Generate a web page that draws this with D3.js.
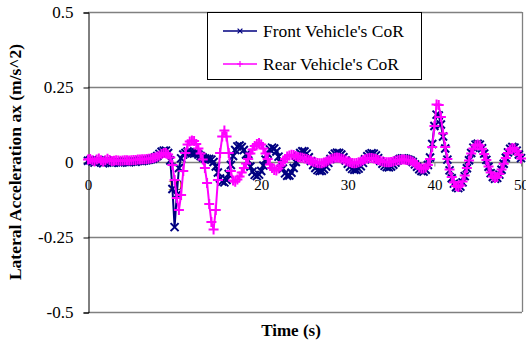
<!DOCTYPE html>
<html><head><meta charset="utf-8">
<script src="https://cdn.jsdelivr.net/npm/d3@7"></script>
<style>body{margin:0;background:#fff} svg text{font-family:"Liberation Serif","Times New Roman",serif;}</style></head>
<body>
<svg id="c" width="526" height="349"></svg>
<script>
const sampleStep = 0.25; // seconds between samples, t = i * sampleStep

const frontCoR = [
0.004,0.006,0.002,-0.002, 0.003,0.006,0.000,-0.004, 0.001,0.005,0.000,-0.003, -0.002,0.000,-0.001,-0.002,
0.000,0.001,0.000,-0.001, 0.001,0.002,0.001,0.003, 0.004,0.003,0.005,0.006, 0.007,0.009,0.011,0.015,
0.020,0.027,0.034,0.038, 0.038,0.030,0.005,-0.090, -0.217,-0.110,-0.020,0.012, 0.025,0.030,0.035,0.033,
0.030,0.028,0.030,0.025, 0.020,0.015,0.012,0.010, 0.010,0.008,0.000,-0.015, -0.035,-0.055,-0.065,-0.068,
-0.060,-0.040,-0.010,0.020, 0.040,0.052,0.055,0.050, 0.040,0.025,0.005,-0.015, -0.032,-0.043,-0.047,-0.042,
-0.030,-0.012,0.008,0.028, 0.042,0.048,0.045,0.035, 0.018,-0.002,-0.022,-0.038, -0.046,-0.045,-0.036,-0.020,
0.000,0.018,0.030,0.036, 0.035,0.028,0.016,0.003, -0.010,-0.020,-0.027,-0.030, -0.029,-0.024,-0.015,-0.003,
0.010,0.021,0.028,0.031, 0.030,0.025,0.016,0.005, -0.006,-0.016,-0.023,-0.026, -0.026,-0.022,-0.014,-0.003,
0.009,0.019,0.026,0.029, 0.028,0.022,0.013,0.003, -0.006,-0.013,-0.017,-0.018, -0.015,-0.009,-0.002,0.005,
0.010,0.012,0.012,0.010, 0.008,0.005,0.000,-0.008, -0.016,-0.024,-0.030,-0.032, -0.026,-0.010,0.015,0.060,
0.120,0.158,0.155,0.125, 0.085,0.045,0.008,-0.028, -0.054,-0.072,-0.084,-0.087, -0.082,-0.068,-0.047,-0.021,
0.006,0.030,0.048,0.058, 0.061,0.058,0.046,0.028, 0.007,-0.016,-0.037,-0.050, -0.056,-0.053,-0.042,-0.026,
-0.006,0.014,0.032,0.044, 0.050,0.048,0.038,0.025, 0.013
];

const rearCoR = [
0.008,0.010,0.006,0.002, 0.008,0.012,0.006,0.001, 0.006,0.011,0.007,0.003, 0.004,0.006,0.005,0.004,
0.005,0.006,0.006,0.005, 0.006,0.007,0.007,0.008, 0.008,0.009,0.009,0.010, 0.011,0.012,0.013,0.015,
0.018,0.022,0.027,0.030, 0.030,0.025,0.015,-0.010, -0.060,-0.120,-0.160,-0.110, -0.030,0.030,0.058,0.068,
0.072,0.070,0.060,0.045, 0.028,0.008,-0.020,-0.070, -0.140,-0.200,-0.225,-0.160, -0.060,0.030,0.085,0.105,
0.085,0.030,-0.030,-0.062, -0.066,-0.058,-0.048,-0.035, -0.020,-0.005,0.010,0.028, 0.042,0.053,0.060,0.063,
0.058,0.045,0.028,0.010, -0.008,-0.020,-0.027,-0.028, -0.022,-0.012,0.000,0.010, 0.018,0.022,0.024,0.023,
0.020,0.017,0.015,0.014, 0.012,0.010,0.007,0.004, 0.001,-0.001,-0.003,-0.004, -0.004,-0.002,0.001,0.005,
0.009,0.012,0.014,0.015, 0.014,0.012,0.009,0.005, 0.002,-0.001,-0.003,-0.004, -0.003,-0.001,0.002,0.006,
0.009,0.012,0.013,0.013, 0.012,0.010,0.007,0.004, 0.002,0.000,-0.001,-0.001, 0.000,0.002,0.004,0.006,
0.007,0.008,0.008,0.007, 0.006,0.004,0.001,-0.004, -0.010,-0.018,-0.022,-0.022, -0.018,-0.010,0.010,0.050,
0.120,0.192,0.190,0.150, 0.095,0.050,0.010,-0.025, -0.050,-0.068,-0.080,-0.083, -0.078,-0.065,-0.045,-0.020,
0.005,0.028,0.045,0.055, 0.058,0.055,0.044,0.027, 0.007,-0.015,-0.035,-0.048, -0.053,-0.050,-0.040,-0.025,
-0.006,0.013,0.030,0.042, 0.047,0.045,0.036,0.024, 0.012
];

const seriesNames = ["Front Vehicle's CoR", "Rear Vehicle's CoR"];
const yTicks = [-0.5, -0.25, 0, 0.25, 0.5];
const yTickLabels = ["-0.5", "-0.25", "0", "0.25", "0.5"];
const xTicks = [0, 10, 20, 30, 40, 50];
const xTickLabels = ["0", "10", "20", "30", "40", "50"];
const xTitle = "Time (s)";
const yTitle = "Lateral Acceleration ax (m/s^2)";

const FRONT = "#000080", REAR = "#FF00FF", GRID = "#808080";
const FONT = "Liberation Serif, Times New Roman, serif";

const svg = d3.select("#c");
const x = d3.scaleLinear().domain([0, 50]).range([88, 521]);
const y = d3.scaleLinear().domain([-0.5, 0.5]).range([312, 12]);

// gridlines
svg.append("g").selectAll("line").data(yTicks).join("line")
  .attr("x1", 88).attr("x2", 522)
  .attr("y1", d => Math.round(y(d)) + 0.5).attr("y2", d => Math.round(y(d)) + 0.5)
  .attr("stroke", GRID).attr("stroke-width", 1.3);
// right border
svg.append("line").attr("x1", 522.5).attr("x2", 522.5).attr("y1", y(0.5)).attr("y2", y(-0.5))
  .attr("stroke", GRID).attr("stroke-width", 1.3);

// y axis
const yAxis = d3.axisLeft(y).tickValues(yTicks).tickFormat((d, i) => yTickLabels[i]).tickSize(5).tickPadding(10);
const gy = svg.append("g").attr("transform", "translate(88.5,0.5)").call(yAxis);
gy.attr("font-family", null);
gy.select(".domain").attr("stroke", "#000");
gy.selectAll(".tick line").attr("stroke", "#000");
gy.selectAll("text").style("font-family", FONT).style("font-size", "17px").attr("fill", "#000");

// x axis ticks at zero line
const xAxis = d3.axisBottom(x).tickValues(xTicks).tickFormat((d, i) => xTickLabels[i]).tickSize(4).tickPadding(13);
const gx = svg.append("g").attr("transform", "translate(0," + (Math.round(y(0)) + 0.5) + ")").call(xAxis);
gx.attr("font-family", null);
gx.select(".domain").remove();
gx.selectAll(".tick line").attr("stroke", GRID);
gx.selectAll("text").style("font-family", FONT).style("font-size", "15px").attr("fill", "#000");

function pts(arr) { return arr.map((v, i) => [i * sampleStep, v]); }
const line = d3.line().x(d => x(d[0])).y(d => y(d[1]));
const xMark = "M-4,-4L4,4M-4,4L4,-4";
const plusMark = "M-5,0L5,0M0,-5L0,5";

function drawSeries(arr, color, mark, sw) {
  const g = svg.append("g");
  g.append("path").datum(pts(arr)).attr("d", line).attr("fill", "none").attr("stroke", color).attr("stroke-width", 2);
  g.selectAll("path.m").data(pts(arr)).join("path").attr("class", "m")
    .attr("transform", d => `translate(${x(d[0])},${y(d[1])})`)
    .attr("d", mark).attr("stroke", color).attr("stroke-width", sw).attr("fill", "none");
}
drawSeries(frontCoR, FRONT, xMark, 2);
drawSeries(rearCoR, REAR, plusMark, 2);

// legend
const lg = svg.append("g");
lg.append("rect").attr("x", 207.5).attr("y", 12.5).attr("width", 214).attr("height", 67)
  .attr("fill", "#fff").attr("stroke", "#000").attr("stroke-width", 1);
const legendMarks = [
  {name: seriesNames[0], color: FRONT, mark: xMark, y: 31},
  {name: seriesNames[1], color: REAR, mark: plusMark, y: 64}
];
legendMarks.forEach(it => {
  lg.append("line").attr("x1", 223).attr("x2", 257).attr("y1", it.y).attr("y2", it.y).attr("stroke", it.color).attr("stroke-width", 1.3);
  lg.append("path").attr("d", it.mark).attr("transform", `translate(240,${it.y}) scale(0.6)`).attr("stroke", it.color).attr("stroke-width", 2).attr("fill", "none");
  lg.append("text").attr("x", 263).attr("y", it.y + 6).style("font-family", FONT).style("font-size", "17.5px").attr("fill", "#000").text(it.name);
});

// titles
svg.append("text").attr("x", 291).attr("y", 336).attr("text-anchor", "middle")
  .style("font-family", FONT).style("font-weight", "bold").style("font-size", "17px").text(xTitle);
svg.append("text").attr("transform", "translate(21,162) rotate(-90)").attr("text-anchor", "middle")
  .style("font-family", FONT).style("font-weight", "bold").style("font-size", "17.5px").text(yTitle);
</script>
</body></html>
